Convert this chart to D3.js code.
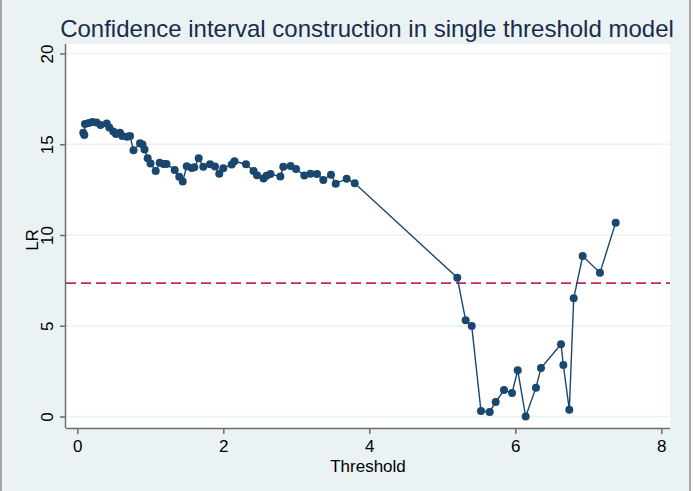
<!DOCTYPE html>
<html>
<head>
<meta charset="utf-8">
<script src="https://cdn.jsdelivr.net/npm/d3@7"></script>
<style>
  body { margin: 0; background: #eaf2f3; }
  svg { display: block; font-family: "Liberation Sans", Arial, sans-serif; }
</style>
</head>
<body>
<div id="chart"></div>
<script>
// threshold candidates and their LR statistic
const threshold = [
  0.082, 0.096, 0.105, 0.158, 0.208, 0.263, 0.318, 0.403, 0.438, 0.493,
  0.530, 0.585, 0.616, 0.681, 0.722, 0.770, 0.859, 0.893, 0.921, 0.964,
  1.003, 1.074, 1.129, 1.181, 1.222, 1.334, 1.397, 1.444, 1.499, 1.567,
  1.603, 1.663, 1.726, 1.818, 1.886, 1.945, 2.000, 2.115, 2.153, 2.311,
  2.414, 2.462, 2.551, 2.592, 2.647, 2.781, 2.822, 2.921, 2.996, 3.110,
  3.195, 3.284, 3.370, 3.475, 3.540, 3.690, 3.800,
  5.205, 5.320, 5.403, 5.530, 5.649, 5.731, 5.845, 5.955, 6.033, 6.142,
  6.283, 6.352, 6.626, 6.658, 6.740, 6.800, 6.923, 7.160, 7.375
];
const lr = [
  15.64, 15.51, 16.12, 16.17, 16.23, 16.20, 16.06, 16.15, 15.92, 15.70,
  15.56, 15.64, 15.45, 15.42, 15.45, 14.67, 15.05, 14.98, 14.71, 14.23,
  13.94, 13.53, 13.98, 13.91, 13.91, 13.58, 13.21, 12.95, 13.79, 13.69,
  13.73, 14.23, 13.76, 13.90, 13.77, 13.37, 13.68, 13.88, 14.06, 13.90,
  13.53, 13.29, 13.11, 13.27, 13.36, 13.22, 13.76, 13.80, 13.64, 13.28,
  13.38, 13.36, 13.03, 13.32, 12.83, 13.10, 12.85,
  7.65, 5.30, 4.99, 0.30, 0.25, 0.80, 1.46, 1.29, 2.55, 0.00,
  1.59, 2.67, 3.98, 2.84, 0.37, 6.51, 8.84, 7.92, 10.68
];
const critical = 7.35;
const xTicks = [0, 2, 4, 6, 8];
const yTicks = [0, 5, 10, 15, 20];

const data = threshold.map((t, i) => ({ t: t, lr: lr[i] }));

const width = 694;
const height = 491;
const plot = { left: 66, right: 670, top: 44, bottom: 428 };

const svg = d3.select('#chart')
  .append('svg')
  .attr('width', width)
  .attr('height', height);

// outer window edges
svg.append('rect').attr('x', 0).attr('y', 0).attr('width', 2).attr('height', height).attr('fill', '#a5a5a5');
svg.append('rect').attr('x', 689).attr('y', 0).attr('width', 2).attr('height', height).attr('fill', '#a5a5a5');
svg.append('rect').attr('x', 691).attr('y', 0).attr('width', 3).attr('height', height).attr('fill', '#ffffff');

svg.append('rect')
  .attr('x', plot.left)
  .attr('y', plot.top)
  .attr('width', plot.right - plot.left)
  .attr('height', plot.bottom - plot.top)
  .attr('fill', '#ffffff');

const xScale = d3.scaleLinear().domain([0, 8]).range([77.3, 661.3]);
const yScale = d3.scaleLinear().domain([0, 20]).range([416.5, 53.5]);

// gridlines
svg.append('g')
  .selectAll('line')
  .data(yTicks)
  .enter()
  .append('line')
  .attr('x1', plot.left)
  .attr('x2', plot.right)
  .attr('y1', (d) => yScale(d))
  .attr('y2', (d) => yScale(d))
  .attr('stroke', '#eaf2f3')
  .attr('stroke-width', 1.5);

// axes
const xAxis = svg.append('g')
  .attr('transform', `translate(0, ${plot.bottom})`)
  .call(d3.axisBottom(xScale).tickValues(xTicks).tickSize(6).tickPadding(6).tickSizeOuter(0));
xAxis.select('.domain').attr('d', `M${plot.left},0.5H${plot.right}`);

const yAxis = svg.append('g')
  .attr('transform', `translate(${plot.left}, 0)`)
  .call(d3.axisLeft(yScale).tickValues(yTicks).tickSize(6).tickPadding(6).tickSizeOuter(0));
yAxis.select('.domain').attr('d', `M-0.5,${plot.top}V${plot.bottom}`);

svg.selectAll('.domain, .tick line').attr('stroke', '#6e6e6e').attr('stroke-width', 1.5);
xAxis.selectAll('text').style('font-size', '17px').attr('fill', '#000');
yAxis.selectAll('text')
  .style('font-size', '17px')
  .attr('fill', '#000')
  .attr('text-anchor', 'middle')
  .attr('dy', '0')
  .attr('x', 0)
  .attr('transform', 'translate(-13, 0) rotate(-90)');

// critical value
svg.append('line')
  .attr('x1', plot.left)
  .attr('x2', plot.right)
  .attr('y1', yScale(critical))
  .attr('y2', yScale(critical))
  .attr('stroke', '#c4284f')
  .attr('stroke-width', 1.6)
  .attr('stroke-dasharray', '10,5');

const line = d3.line()
  .x((d) => xScale(d.t))
  .y((d) => yScale(d.lr));

svg.append('path')
  .datum(data)
  .attr('d', line)
  .attr('fill', 'none')
  .attr('stroke', '#1a476f')
  .attr('stroke-width', 1.4);

svg.selectAll('circle')
  .data(data)
  .enter()
  .append('circle')
  .attr('cx', (d) => xScale(d.t))
  .attr('cy', (d) => yScale(d.lr))
  .attr('r', 4)
  .attr('fill', '#1a476f');

// titles
svg.append('text')
  .attr('x', 367)
  .attr('y', 37)
  .attr('text-anchor', 'middle')
  .style('font-size', '24px')
  .attr('fill', '#1c2a4e')
  .text('Confidence interval construction in single threshold model');

svg.append('text')
  .attr('x', 368)
  .attr('y', 472)
  .attr('text-anchor', 'middle')
  .style('font-size', '17px')
  .attr('fill', '#000')
  .text('Threshold');

svg.append('text')
  .attr('transform', 'translate(38, 240) rotate(-90)')
  .attr('text-anchor', 'middle')
  .style('font-size', '17px')
  .attr('fill', '#000')
  .text('LR');
</script>
</body>
</html>
